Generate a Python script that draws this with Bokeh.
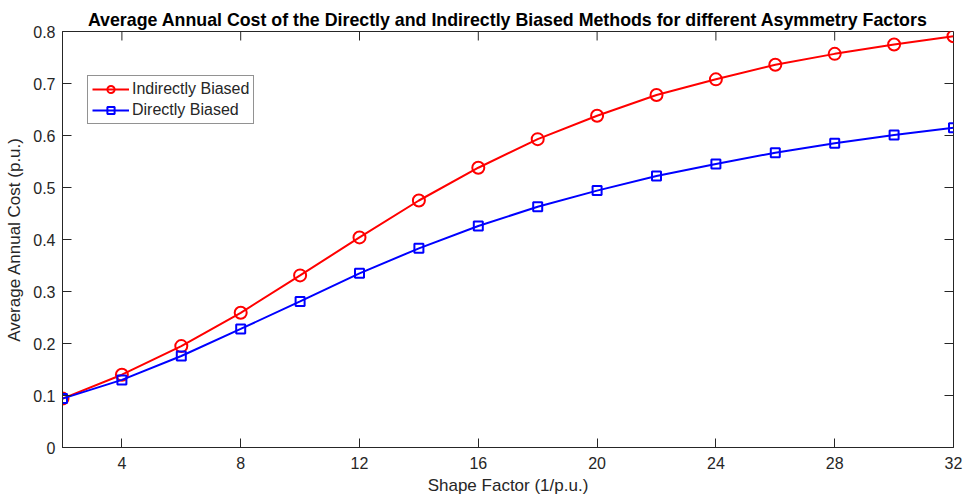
import math

from bokeh.plotting import figure
from bokeh.models import Range1d, FixedTicker, Legend, LegendItem
from bokeh.embed import file_html
from bokeh.resources import INLINE

# Shape factor (1/p.u.) sampled every 2 units
shape_factor = [2, 4, 6, 8, 10, 12, 14, 16, 18, 20, 22, 24, 26, 28, 30, 32]

# Average annual cost (p.u.) of each biasing method
indirectly_biased = [0.094, 0.140, 0.195, 0.259, 0.331, 0.404, 0.475, 0.538,
                     0.593, 0.638, 0.678, 0.708, 0.736, 0.757, 0.775, 0.791]
directly_biased = [0.094, 0.130, 0.176, 0.228, 0.281, 0.335, 0.383, 0.426,
                   0.463, 0.494, 0.522, 0.545, 0.567, 0.585, 0.601, 0.615]

x_ticks = [4, 8, 12, 16, 20, 24, 28, 32]
y_ticks = [0, 0.1, 0.2, 0.3, 0.4, 0.5, 0.6, 0.7, 0.8]
y_tick_labels = ["0", "0.1", "0.2", "0.3", "0.4", "0.5", "0.6", "0.7", "0.8"]

X_MIN, X_MAX = 2, 32
Y_MIN, Y_MAX = 0, 0.8

FONT = "Liberation Sans"
AX = "#262626"
TICK_LEN = 9

p = figure(
    width=966, height=499,
    x_range=Range1d(X_MIN, X_MAX), y_range=Range1d(Y_MIN, Y_MAX),
    output_backend="svg", toolbar_location=None,
    min_border_left=62, min_border_right=13,
    min_border_top=31, min_border_bottom=52,
    title="Average Annual Cost of the Directly and Indirectly Biased Methods for different Asymmetry Factors",
)
p.background_fill_color = "white"
p.border_fill_color = "white"
p.outline_line_color = AX
p.outline_line_width = 1
p.xgrid.visible = False
p.ygrid.visible = False

p.title.align = "center"
p.title.text_font = FONT
p.title.text_font_size = "17.8px"
p.title.text_font_style = "bold"
p.title.text_color = "black"
p.title.standoff = 4
p.title.offset = 0

def style_axis(ax, ticks):
    ax.ticker = FixedTicker(ticks=ticks)
    ax.major_tick_in = TICK_LEN
    ax.major_tick_out = 0
    ax.minor_tick_in = 0
    ax.minor_tick_out = 0
    ax.axis_line_color = AX
    ax.major_tick_line_color = AX
    ax.major_label_text_font = FONT
    ax.major_label_text_color = AX
    ax.major_label_text_font_size = "16px"
    ax.axis_label_text_font = FONT
    ax.axis_label_text_color = AX
    ax.axis_label_text_font_style = "normal"
    ax.axis_label_text_font_size = "17px"

xa = p.xaxis[0]
style_axis(xa, x_ticks)
xa.major_label_standoff = 9
xa.axis_label = "Shape Factor (1/p.u.)"
xa.axis_label_standoff = 4

ya = p.yaxis[0]
style_axis(ya, y_ticks)
ya.major_label_standoff = 7
ya.major_label_overrides = {v: s for v, s in zip(y_ticks, y_tick_labels)}
ya.axis_label = "Average Annual Cost (p.u.)"
ya.axis_label_standoff = 6

# Inward ticks on the top and right edges of the box
p.ray(x=x_ticks, y=[Y_MAX] * len(x_ticks), length=TICK_LEN, length_units="screen",
      angle=-math.pi / 2, line_color=AX, line_width=1)
p.ray(x=[X_MAX] * len(y_ticks), y=y_ticks, length=TICK_LEN, length_units="screen",
      angle=math.pi, line_color=AX, line_width=1)

# Indirectly biased method: red line with circles
r_line = p.line(shape_factor, indirectly_biased, line_color="#ff0000", line_width=2)
r_mark = p.scatter(shape_factor, indirectly_biased, marker="circle", size=12,
                   line_color="#ff0000", line_width=2, fill_color=None)

# Directly biased method: blue line with squares
b_line = p.line(shape_factor, directly_biased, line_color="#0000ff", line_width=2)
b_mark = p.scatter(shape_factor, directly_biased, marker="square", size=9,
                   line_color="#0000ff", line_width=2, fill_color=None)

legend = Legend(
    items=[
        LegendItem(label="Indirectly Biased", renderers=[r_line, r_mark]),
        LegendItem(label="Directly Biased", renderers=[b_line, b_mark]),
    ],
    location=(25, 323),
    margin=0, padding=4, spacing=3,
    glyph_width=37, glyph_height=18, label_height=18, label_standoff=3,
    label_text_font=FONT, label_text_font_size="16px", label_text_color=AX,
    border_line_color=AX, border_line_width=1,
    background_fill_color="white", background_fill_alpha=1.0,
)
p.add_layout(legend)

open("out.html", "w").write(file_html(p, INLINE))
